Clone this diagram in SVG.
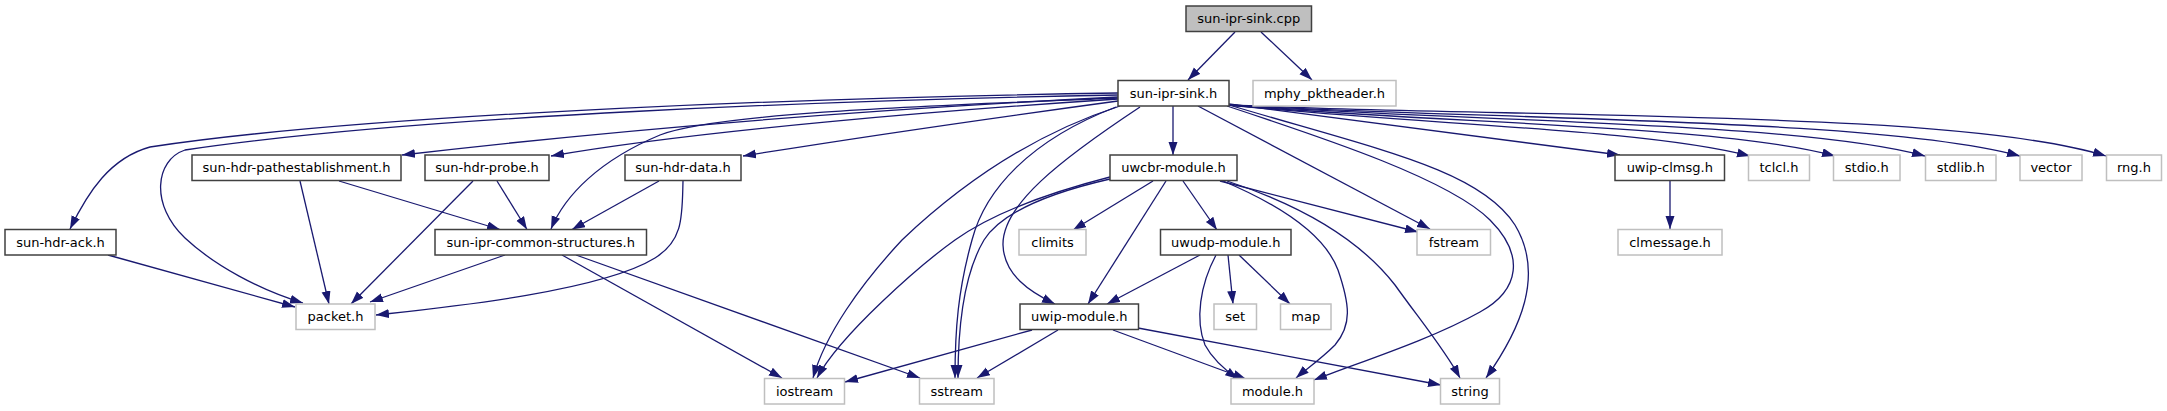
<svg xmlns="http://www.w3.org/2000/svg" width="2167" height="411" viewBox="0 0 2167 411">
<style>
.n rect{fill:#fff;stroke:#404040;stroke-width:1.5}
.x rect{fill:#fff;stroke:#bfbfbf;stroke-width:1.5}
.m rect{fill:#bfbfbf;stroke:#404040;stroke-width:1.5}
text{font-family:"DejaVu Sans","Liberation Sans",sans-serif;font-size:13px;fill:#000;text-anchor:middle}
#edges path{fill:none;stroke:#191970;stroke-width:1.3;marker-end:url(#a)}
</style>
<defs>
<marker id="a" markerUnits="userSpaceOnUse" markerWidth="14" markerHeight="10" refX="13" refY="4.5" orient="auto"><path d="M0,0 L13,4.5 L0,9 Z" fill="#191970"/></marker>
</defs>
<rect width="2167" height="411" fill="#fff"/>
<g id="edges">
<path d="M1235,32 L1188,80"/>
<path d="M1261,32 L1312,80"/>
<path d="M1118,93 C 850,97 380,112 150,147 C 110,158 88,192 70,229"/>
<path d="M1118,95 C 850,100 420,115 185,150 C 155,160 150,205 185,238 C 215,266 260,290 303,303"/>
<path d="M1118,97 C 900,108 650,126 402,155"/>
<path d="M1118,99 C 950,110 700,130 551,156"/>
<path d="M1118,101 C 1000,117 830,142 743,156"/>
<path d="M1118,98 C 950,105 720,112 660,135 C 600,160 565,195 551,229"/>
<path d="M1173,106 L1173,155"/>
<path d="M1120,106 C 1030,135 960,185 902,240 C 860,285 825,335 813,378"/>
<path d="M1116,107 C 1030,140 985,190 972,240 C 958,290 955,330 955,378"/>
<path d="M1140,107 C 1060,160 1002,205 1003,245 C 1004,275 1030,292 1055,304"/>
<path d="M1198,106 L1430,229"/>
<path d="M1227,106 C 1330,140 1450,180 1490,220 C 1525,255 1520,290 1480,312 C 1430,340 1360,362 1314,380"/>
<path d="M1229,105 C 1380,150 1480,170 1515,225 C 1545,275 1520,330 1486,378"/>
<path d="M1229,104 L1620,155"/>
<path d="M1229,105 C 1420,125 1640,128 1750,156"/>
<path d="M1229,105 C 1450,124 1720,125 1835,156"/>
<path d="M1229,105 C 1480,122 1800,122 1925,156"/>
<path d="M1229,105 C 1500,120 1880,118 2020,156"/>
<path d="M1229,105 C 1520,118 1960,110 2106,156"/>
<path d="M1670,181 L1670,229"/>
<path d="M1153,181 L1073,230"/>
<path d="M1166,181 L1088,304"/>
<path d="M1183,181 L1217,230"/>
<path d="M1110,177 C 1040,195 990,215 955,240 C 920,265 840,335 817,378"/>
<path d="M1110,179 C 1040,195 1000,215 984,240 C 965,272 958,320 958,378"/>
<path d="M1220,181 L1418,232"/>
<path d="M1223,181 C 1280,205 1325,235 1338,270 C 1350,305 1352,325 1335,345 C 1320,360 1305,370 1296,378"/>
<path d="M1227,181 C 1300,205 1360,240 1395,285 C 1420,320 1445,350 1460,378"/>
<path d="M1200,255 L1107,304"/>
<path d="M1216,255 C 1200,285 1195,320 1205,345 C 1213,360 1225,370 1238,379"/>
<path d="M1228,255 L1233,304"/>
<path d="M1239,255 L1290,304"/>
<path d="M1032,330 L845,382"/>
<path d="M1058,330 L977,378"/>
<path d="M1113,330 L1246,379"/>
<path d="M1138,328 L1441,385"/>
<path d="M300,181 L329,304"/>
<path d="M339,181 L500,229.5"/>
<path d="M473,181 L351,304"/>
<path d="M497,181 L527,229.5"/>
<path d="M659,181 L572,229.5"/>
<path d="M683,181 C 682,215 684,240 655,258 C 600,292 440,308 376,315"/>
<path d="M108,255 L295,307"/>
<path d="M505,255 L370,302"/>
<path d="M562,255 L782,378"/>
<path d="M576,255 L920,378"/>
</g>
<g id="sun-ipr-sink-cpp" class="m"><rect x="1186" y="6" width="125.5" height="25.5"/><text x="1248.75" y="23">sun-ipr-sink.cpp</text></g>
<g id="sun-ipr-sink-h" class="n"><rect x="1118" y="80.5" width="111" height="25.5"/><text x="1173.5" y="97.5">sun-ipr-sink.h</text></g>
<g id="mphy_pktheader-h" class="x"><rect x="1253" y="80.5" width="143" height="25.5"/><text x="1324.5" y="97.5">mphy_pktheader.h</text></g>
<g id="sun-hdr-pathestablishment-h" class="n"><rect x="192" y="155" width="209" height="25.5"/><text x="296.5" y="172">sun-hdr-pathestablishment.h</text></g>
<g id="sun-hdr-probe-h" class="n"><rect x="425" y="155" width="124" height="25.5"/><text x="487" y="172">sun-hdr-probe.h</text></g>
<g id="sun-hdr-data-h" class="n"><rect x="625" y="155" width="116" height="25.5"/><text x="683" y="172">sun-hdr-data.h</text></g>
<g id="uwcbr-module-h" class="n"><rect x="1110" y="155" width="127" height="25.5"/><text x="1173.5" y="172">uwcbr-module.h</text></g>
<g id="uwip-clmsg-h" class="n"><rect x="1615" y="155" width="109.5" height="25.5"/><text x="1669.75" y="172">uwip-clmsg.h</text></g>
<g id="tclcl-h" class="x"><rect x="1748.5" y="155" width="61" height="25.5"/><text x="1779" y="172">tclcl.h</text></g>
<g id="stdio-h" class="x"><rect x="1833.5" y="155" width="66.5" height="25.5"/><text x="1866.75" y="172">stdio.h</text></g>
<g id="stdlib-h" class="x"><rect x="1925.5" y="155" width="70.5" height="25.5"/><text x="1960.75" y="172">stdlib.h</text></g>
<g id="vector" class="x"><rect x="2020" y="155" width="62" height="25.5"/><text x="2051" y="172">vector</text></g>
<g id="rng-h" class="x"><rect x="2106.5" y="155" width="55" height="25.5"/><text x="2134" y="172">rng.h</text></g>
<g id="sun-hdr-ack-h" class="n"><rect x="5" y="229.5" width="111" height="25.5"/><text x="60.5" y="246.5">sun-hdr-ack.h</text></g>
<g id="sun-ipr-common-structures-h" class="n"><rect x="435" y="229.5" width="211.5" height="25.5"/><text x="540.75" y="246.5">sun-ipr-common-structures.h</text></g>
<g id="climits" class="x"><rect x="1019" y="229.5" width="67" height="25.5"/><text x="1052.5" y="246.5">climits</text></g>
<g id="uwudp-module-h" class="n"><rect x="1160.5" y="229.5" width="130.5" height="25.5"/><text x="1225.75" y="246.5">uwudp-module.h</text></g>
<g id="fstream" class="x"><rect x="1417" y="229.5" width="73.5" height="25.5"/><text x="1453.75" y="246.5">fstream</text></g>
<g id="clmessage-h" class="x"><rect x="1618" y="229.5" width="104" height="25.5"/><text x="1670" y="246.5">clmessage.h</text></g>
<g id="packet-h" class="x"><rect x="296" y="304" width="79" height="25.5"/><text x="335.5" y="321">packet.h</text></g>
<g id="uwip-module-h" class="n"><rect x="1020" y="304" width="118.5" height="25.5"/><text x="1079.25" y="321">uwip-module.h</text></g>
<g id="set" class="x"><rect x="1214" y="304" width="42.5" height="25.5"/><text x="1235.25" y="321">set</text></g>
<g id="map" class="x"><rect x="1280.5" y="304" width="50.5" height="25.5"/><text x="1305.75" y="321">map</text></g>
<g id="iostream" class="x"><rect x="764.5" y="378.5" width="80" height="25.5"/><text x="804.5" y="395.5">iostream</text></g>
<g id="sstream" class="x"><rect x="919.5" y="378.5" width="74.5" height="25.5"/><text x="956.75" y="395.5">sstream</text></g>
<g id="module-h" class="x"><rect x="1231" y="378.5" width="83" height="25.5"/><text x="1272.5" y="395.5">module.h</text></g>
<g id="string" class="x"><rect x="1440.5" y="378.5" width="59" height="25.5"/><text x="1470" y="395.5">string</text></g>
</svg>
